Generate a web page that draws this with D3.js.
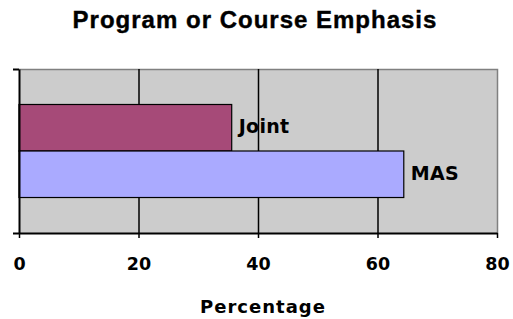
<!DOCTYPE html>
<html>
<head>
<meta charset="utf-8">
<script src="https://cdn.jsdelivr.net/npm/d3@7"></script>
<style>
  body { margin: 0; background: #fff; }
  text { font-family: "Liberation Sans", Arial, sans-serif; font-weight: bold; fill: #000; }
  .wide { font-family: "DejaVu Sans", sans-serif; }
</style>
</head>
<body>
<div id="chart"></div>
<script>
// data
var categories = ["Emphasis"];
var seriesNames = ["Joint", "MAS"];
var seriesValues = [35.6, 64.4];
var xTicks = [0, 20, 40, 60, 80];

var W = 513, H = 319;
var margin = { top: 69, left: 19, bottom: 86, right: 16 };
var plotW = W - margin.left - margin.right,
    plotH = H - margin.top - margin.bottom;

var svg = d3.select("#chart").append("svg")
    .attr("width", W)
    .attr("height", H);

var x = d3.scaleLinear().domain([0, 80]).range([margin.left, margin.left + plotW]);

// category axis (one category), bars grouped inside it
var yCat = d3.scaleBand().domain(categories).range([margin.top, margin.top + plotH]).padding(0);
var ySer = d3.scaleBand().domain(seriesNames).range([0, yCat.bandwidth()])
    .paddingInner(0).paddingOuter(0.763);
var yEdge = d3.scaleLinear().domain([0, categories.length]).range([margin.top + plotH, margin.top]);

var colors = { "Joint": "#a64a78", "MAS": "#aaaaff" };

// plot background
svg.append("rect")
    .attr("x", margin.left).attr("y", margin.top)
    .attr("width", plotW).attr("height", plotH)
    .attr("fill", "#cccccc");

// top and right border in gray
svg.append("path")
    .attr("d", "M" + margin.left + "," + (margin.top + 0.5) + "H" + (margin.left + plotW + 0.5) + "V" + (margin.top + plotH))
    .attr("fill", "none").attr("stroke", "#808080").attr("stroke-width", 1.5);

// vertical gridlines
var grid = svg.append("g")
    .attr("transform", "translate(0," + (margin.top + plotH) + ")")
    .call(d3.axisBottom(x).tickValues([20, 40, 60]).tickSize(-plotH).tickFormat(""));
grid.select(".domain").remove();
grid.selectAll("line").attr("stroke", "#000").attr("stroke-width", 1.5);

// bars
var bars = [];
categories.forEach(function (c) {
    seriesNames.forEach(function (s, i) {
        bars.push({ cat: c, name: s, value: seriesValues[i] });
    });
});

svg.append("g").selectAll("rect")
    .data(bars)
    .enter().append("rect")
    .attr("x", x(0))
    .attr("y", d => yCat(d.cat) + ySer(d.name))
    .attr("width", d => x(d.value) - x(0))
    .attr("height", ySer.bandwidth())
    .attr("fill", d => colors[d.name])
    .attr("stroke", "#000")
    .attr("stroke-width", 1.2);

// series labels at bar ends
svg.append("g").selectAll("text")
    .data(bars)
    .enter().append("text")
    .attr("class", "wide")
    .attr("x", d => x(d.value) + 7)
    .attr("y", d => yCat(d.cat) + ySer(d.name) + ySer.bandwidth() / 2)
    .attr("dy", "0.3em")
    .style("font-size", "19px")
    .style("letter-spacing", "0.3px")
    .text(d => d.name);

// x axis
var xAxis = svg.append("g")
    .attr("transform", "translate(0," + (margin.top + plotH) + ")")
    .call(d3.axisBottom(x).tickValues(xTicks).tickSize(5).tickPadding(20).tickSizeOuter(0));
xAxis.select(".domain").attr("stroke", "#000").attr("stroke-width", 2);
xAxis.selectAll("line").attr("stroke", "#000").attr("stroke-width", 1.5);
xAxis.selectAll("text")
    .style("font-size", "17.5px")
    .style("font-family", "'DejaVu Sans', sans-serif")
    .style("font-weight", "bold")
    .attr("fill", "#000");

// y axis (category edges only)
var yAxis = svg.append("g")
    .attr("transform", "translate(" + margin.left + ",0)")
    .call(d3.axisLeft(yEdge).tickValues(d3.range(categories.length + 1)).tickSize(6).tickSizeOuter(0).tickFormat(""));
yAxis.select(".domain").attr("stroke", "#000").attr("stroke-width", 2);
yAxis.selectAll("line").attr("stroke", "#000").attr("stroke-width", 2);

// title
svg.append("text")
    .attr("x", 255).attr("y", 28)
    .attr("text-anchor", "middle")
    .style("font-size", "24px")
    .style("letter-spacing", "1px")
    .style("stroke", "#000").style("stroke-width", "0.4px")
    .text("Program or Course Emphasis");

// x axis title
svg.append("text")
    .attr("class", "wide")
    .attr("x", 263).attr("y", 313)
    .attr("text-anchor", "middle")
    .style("font-size", "18px")
    .style("letter-spacing", "1px")
    .text("Percentage");
</script>
</body>
</html>
